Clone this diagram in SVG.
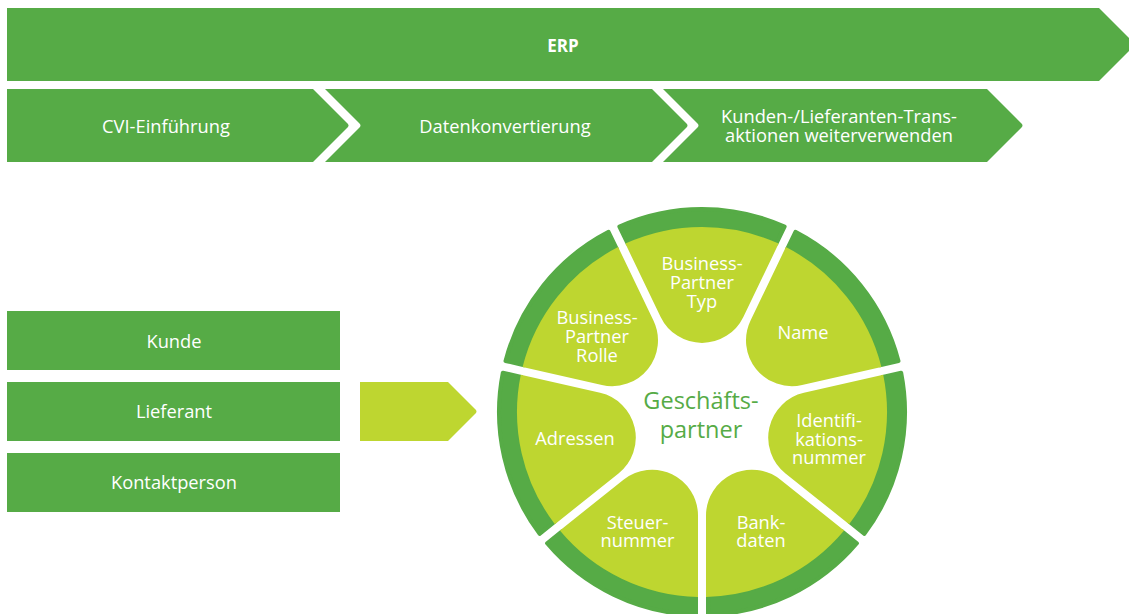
<svg xmlns="http://www.w3.org/2000/svg" width="1129" height="614" viewBox="0 0 1129 614">
<style>
.dg{fill:#56ab46}
.lm{fill:#bed630}
.ring{fill:#56ab46;stroke:#56ab46;stroke-width:4;stroke-linejoin:round}
.t{font-family:"Open Sans","Noto Sans","DejaVu Sans",sans-serif;font-size:18.3px;fill:#ffffff;text-anchor:middle}
.b{font-weight:bold;font-size:17px}
.c{font-family:"Open Sans","Noto Sans","DejaVu Sans",sans-serif;font-size:23.5px;fill:#56ab46;text-anchor:middle}
</style>
<defs>
<path id="lime" d="M95.087,-41.351 L168.378,-76.651 A185,185 0 0 1 168.378,76.651 L95.087,41.351 A45.896,45.896 0 0 1 95.087,-41.351 Z"/>
<path id="ringseg" d="M168.30,-74.38 L185.43,-82.63 A203,203 0 0 1 185.43,82.63 L168.30,74.38 A184,184 0 0 0 168.30,-74.38 Z"/>
</defs>
<rect width="1129" height="614" fill="#ffffff"/>

<g id="erp">
<path class="dg" d="M7,8 H1099 L1135.5,44.5 L1099,81 H7 Z"/>
<text class="t b" x="563" y="51.5">ERP</text>
</g>
<g id="cvi">
<path class="dg" d="M7,89 H313 L347.5,123.5 Q349.5,125.5 347.5,127.5 L313,162 H7 Z"/>
<text class="t" x="166" y="133">CVI-Einführung</text>
</g>
<g id="datenkonvertierung">
<path class="dg" d="M325,89 H652 L686.5,123.5 Q688.5,125.5 686.5,127.5 L652,162 H325 L359.5,127.5 Q361.5,125.5 359.5,123.5 Z"/>
<text class="t" x="505" y="133">Datenkonvertierung</text>
</g>
<g id="transaktionen">
<path class="dg" d="M663,89 H987 L1021.5,123.5 Q1023.5,125.5 1021.5,127.5 L987,162 H663 L697.5,127.5 Q699.5,125.5 697.5,123.5 Z"/>
<text class="t" x="839" y="122.5">Kunden-/Lieferanten-Trans-<tspan x="839" dy="19.5">aktionen weiterverwenden</tspan></text>
</g>

<g id="kunde">
<rect class="dg" x="7" y="311" width="333" height="59"/>
<text class="t" x="174" y="348">Kunde</text>
</g>
<g id="lieferant">
<rect class="dg" x="7" y="382" width="333" height="59"/>
<text class="t" x="174" y="418">Lieferant</text>
</g>
<g id="kontaktperson">
<rect class="dg" x="7" y="453" width="333" height="59"/>
<text class="t" x="174" y="489">Kontaktperson</text>
</g>

<g id="connectors">
<path class="lm" d="M360,382 H448 L475.5,409.5 Q477.5,411.5 475.5,413.5 L448,441 H360 Z"/>
</g>

<g id="geschaeftspartner">
<g id="seg-typ" transform="translate(702,412) rotate(-90)">
<use href="#ringseg" class="ring"/><use href="#lime" class="lm"/>
</g>
<g id="seg-name" transform="translate(702,412) rotate(-38.571)">
<use href="#ringseg" class="ring"/><use href="#lime" class="lm"/>
</g>
<g id="seg-ident" transform="translate(702,412) rotate(12.857)">
<use href="#ringseg" class="ring"/><use href="#lime" class="lm"/>
</g>
<g id="seg-bank" transform="translate(702,412) rotate(64.286)">
<use href="#ringseg" class="ring"/><use href="#lime" class="lm"/>
</g>
<g id="seg-steuer" transform="translate(702,412) rotate(115.714)">
<use href="#ringseg" class="ring"/><use href="#lime" class="lm"/>
</g>
<g id="seg-adressen" transform="translate(702,412) rotate(167.143)">
<use href="#ringseg" class="ring"/><use href="#lime" class="lm"/>
</g>
<g id="seg-rolle" transform="translate(702,412) rotate(218.571)">
<use href="#ringseg" class="ring"/><use href="#lime" class="lm"/>
</g>
<text class="t" x="702" y="270">Business-<tspan x="702" dy="19">Partner</tspan><tspan x="702" dy="19">Typ</tspan></text>
<text class="t" x="803" y="339">Name</text>
<text class="t" x="829" y="427">Identifi-<tspan x="829" dy="18.5">kations-</tspan><tspan x="829" dy="18.5">nummer</tspan></text>
<text class="t" x="761" y="528.5">Bank-<tspan x="761" dy="18.5">daten</tspan></text>
<text class="t" x="637.5" y="528.5">Steuer-<tspan x="637.5" dy="18.5">nummer</tspan></text>
<text class="t" x="575" y="444.5">Adressen</text>
<text class="t" x="597" y="323.5">Business-<tspan x="597" dy="19">Partner</tspan><tspan x="597" dy="19">Rolle</tspan></text>
<text class="c" x="701" y="408.5">Geschäfts-<tspan x="701" dy="29.5">partner</tspan></text>
</g>
</svg>
